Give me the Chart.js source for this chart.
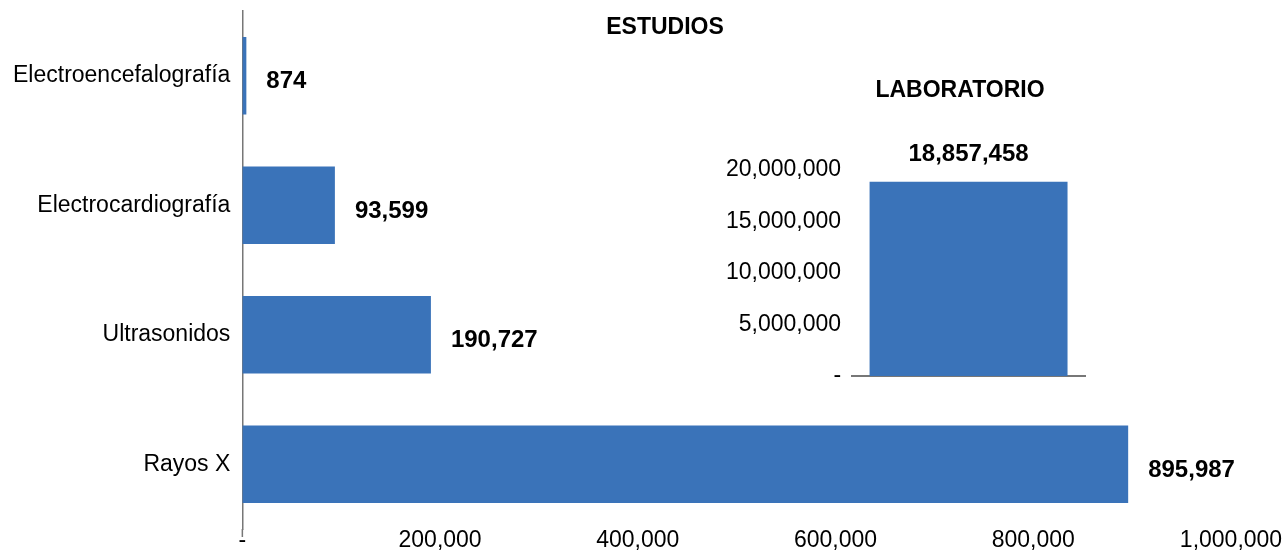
<!DOCTYPE html>
<html>
<head>
<meta charset="utf-8">
<script src="https://cdn.jsdelivr.net/npm/chart.js@4"></script>
<style>
  html, body { margin: 0; background: #fff; overflow: hidden; }
  #wrap { position: relative; width: 1283px; height: 550px; overflow: hidden; }
  #lab { position: absolute; left: 700px; top: 60px; }
</style>
</head>
<body>
<div id="wrap">
  <canvas id="main" width="1283" height="554"></canvas>
  <canvas id="lab" width="420" height="330"></canvas>
</div>
<script>
const categories = ['Electroencefalografía', 'Electrocardiografía', 'Ultrasonidos', 'Rayos X'];
const estudios = [874, 93599, 190727, 895987];
const labCategories = ['Laboratorio'];
const laboratorio = [18857458];

const FONT = '"Liberation Sans", Arial, Helvetica, sans-serif';
const BLUE = '#3A73B9';
const AXIS = '#777777';

function fmt(v) {
    return v === 0 ? '-' : v.toLocaleString('en-US');
}

// quita el margen que Chart.js reserva para medias etiquetas
function noEdgePadding(scale) {
    scale.paddingTop = 0;
    scale.paddingBottom = 0;
    scale.paddingLeft = 0;
    scale.paddingRight = 0;
}

// etiquetas de valor + título dibujados a mano
const valueLabels = {
    id: 'valueLabels',
    afterDatasetsDraw(chart, args, opts) {
        const ctx = chart.ctx;
        const meta = chart.getDatasetMeta(0);
        const area = chart.chartArea;
        ctx.save();
        if (opts.axisTick) {
            // pequeña prolongación del eje vertical bajo el área
            ctx.strokeStyle = AXIS;
            ctx.lineWidth = 1.5;
            ctx.beginPath();
            ctx.moveTo(area.left, area.bottom);
            ctx.lineTo(area.left, area.bottom + opts.axisTick);
            ctx.stroke();
        }
        ctx.fillStyle = '#000';
        ctx.font = 'bold 24px ' + FONT;
        meta.data.forEach((bar, i) => {
            const text = fmt(chart.data.datasets[0].data[i]);
            if (opts.horizontal) {
                ctx.textAlign = 'left';
                ctx.textBaseline = 'middle';
                ctx.fillText(text, bar.x + 20, bar.y + 6);
            } else {
                ctx.textAlign = 'center';
                ctx.textBaseline = 'middle';
                ctx.fillText(text, bar.x, bar.y - 27);
            }
        });
        ctx.font = 'bold 23px ' + FONT;
        ctx.textAlign = 'center';
        ctx.textBaseline = 'middle';
        ctx.fillText(opts.title, opts.titleX, opts.titleY);
        ctx.restore();
    }
};

Chart.defaults.font.family = FONT;
Chart.defaults.color = '#000';

new Chart(document.getElementById('main').getContext('2d'), {
    type: 'bar',
    data: {
        labels: categories,
        datasets: [{
            data: estudios,
            backgroundColor: BLUE,
            barPercentage: 0.6,
            categoryPercentage: 1,
            minBarLength: 4
        }]
    },
    options: {
        indexAxis: 'y',
        responsive: false,
        animation: false,
        layout: { padding: { left: 1, top: 11, right: 52, bottom: 2 } },
        scales: {
            x: {
                min: 0,
                max: 1000000,
                border: { display: false },
                grid: { display: false, drawTicks: false },
                afterFit: noEdgePadding,
                ticks: {
                    stepSize: 200000,
                    padding: 0,
                    maxRotation: 0,
                    font: { size: 23, lineHeight: 1 },
                    callback: (v) => fmt(v)
                }
            },
            y: {
                border: { display: true, color: AXIS, width: 1.5 },
                grid: { display: false, drawTicks: false },
                afterFit: noEdgePadding,
                ticks: { padding: 12, font: { size: 23, lineHeight: 1 } }
            }
        },
        plugins: {
            legend: { display: false },
            tooltip: { enabled: false },
            valueLabels: { horizontal: true, title: 'ESTUDIOS', titleX: 665, titleY: 28, axisTick: 8 }
        }
    },
    plugins: [valueLabels]
});

new Chart(document.getElementById('lab').getContext('2d'), {
    type: 'bar',
    data: {
        labels: labCategories,
        datasets: [{
            data: laboratorio,
            backgroundColor: BLUE,
            barPercentage: 0.85,
            categoryPercentage: 1
        }]
    },
    options: {
        responsive: false,
        animation: false,
        layout: { padding: { left: 15, top: 110, right: 35, bottom: 6 } },
        scales: {
            x: {
                border: { display: true, color: AXIS, width: 2 },
                grid: { display: false },
                ticks: { display: false }
            },
            y: {
                min: 0,
                max: 20000000,
                border: { display: false },
                grid: { display: false, drawTicks: false },
                afterFit: noEdgePadding,
                ticks: {
                    stepSize: 5000000,
                    padding: 11,
                    font: { size: 23 },
                    callback: (v) => fmt(v)
                }
            }
        },
        plugins: {
            legend: { display: false },
            tooltip: { enabled: false },
            valueLabels: { horizontal: false, title: 'LABORATORIO', titleX: 260, titleY: 31 }
        }
    },
    plugins: [valueLabels]
});
</script>
</body>
</html>
